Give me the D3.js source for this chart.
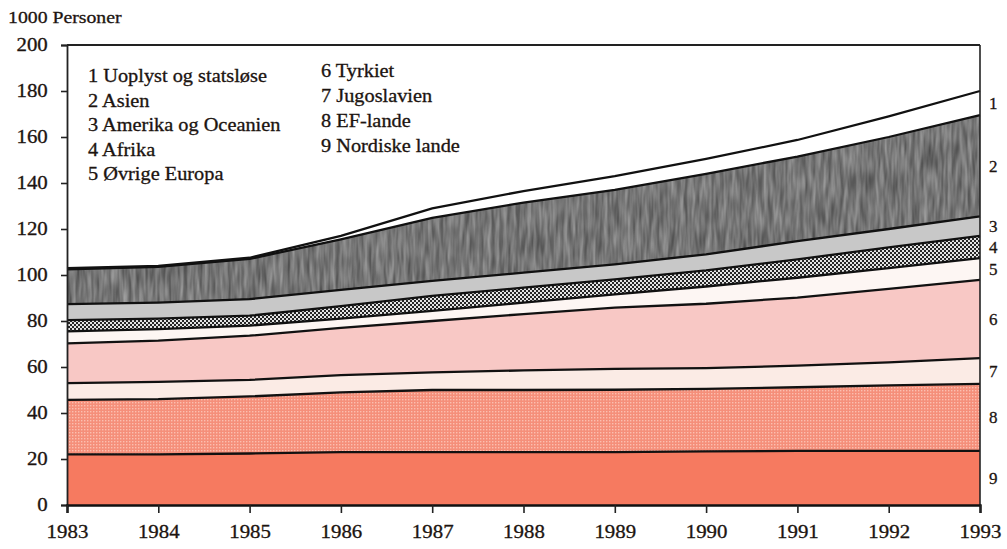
<!DOCTYPE html>
<html>
<head>
<meta charset="utf-8">
<script src="https://cdn.jsdelivr.net/npm/d3@7"></script>
<style>
  body { margin: 0; background: #fff; }
  svg text { font-family: "Liberation Serif", "DejaVu Serif", serif !important; fill: #1c1410; stroke: #1c1410; stroke-width: 0.3px; }
</style>
</head>
<body>
<script>
// years on the x axis
var years = [1983, 1984, 1985, 1986, 1987, 1988, 1989, 1990, 1991, 1992, 1993];

// series, 1000 personer (bottom to top in the stack)
var nordiske   = [22, 22, 22.4, 23, 23, 23, 23, 23.3, 23.5, 23.5, 23.5];
var efLande    = [23.7, 24, 24.8, 26, 27, 27, 27.1, 27.2, 27.7, 28.5, 29.2];
var jugoslav   = [7.3, 7.5, 7.2, 7.5, 7.7, 8.5, 9.1, 9, 9.4, 10, 11.2];
var tyrkiet    = [17.3, 18, 19.2, 20.5, 22.3, 24.5, 26.6, 28, 29.6, 32, 34];
var ovrEuropa  = [5.2, 5, 4.4, 4, 4.4, 5, 5.8, 7.5, 8.6, 9, 9.4];
var afrika     = [4.9, 4.5, 4.3, 5.5, 6.5, 6.5, 6.5, 7, 8, 9, 9.7];
var amerika    = [6.9, 7, 7.2, 7, 6.5, 6.5, 6.5, 7, 7.9, 8, 8.5];
var asien      = [15.2, 15.5, 17.5, 22, 27.4, 30.5, 32.4, 35, 36.8, 40, 44];
var uoplyst    = [0.5, 0.5, 0.5, 1.5, 4.2, 5, 6, 6.5, 7.2, 9, 10.5];

var legendCol1 = ["1 Uoplyst og statsløse", "2 Asien", "3 Amerika og Oceanien", "4 Afrika", "5 Øvrige Europa"];
var legendCol2 = ["6 Tyrkiet", "7 Jugoslavien", "8 EF-lande", "9 Nordiske lande"];
var yTicks = [0, 20, 40, 60, 80, 100, 120, 140, 160, 180, 200];

var keys = ["n9", "n8", "n7", "n6", "n5", "n4", "n3", "n2", "n1"];
var seriesData = [nordiske, efLande, jugoslav, tyrkiet, ovrEuropa, afrika, amerika, asien, uoplyst];
var bandNo = ["9", "8", "7", "6", "5", "4", "3", "2", "1"];
var fills = ["#f67a60", "url(#dotsEF)", "#fbebe5", "#f8c8c5", "#fdf6f3", "url(#check)", "#c8c8c8", "#7a7a7a", "#ffffff"];

var table = years.map(function(yr, i) {
    var row = {year: yr};
    keys.forEach(function(k, j) { row[k] = seriesData[j][i]; });
    return row;
});

var W = 1007, H = 549;
var mLeft = 67, mRight = 980, mTop = 45, mBottom = 505;
var stretch = "scale(1.13,1)";  // the scanned type is a bit wide

var x = d3.scaleLinear().domain([1983, 1993]).range([mLeft, mRight]);
var y = d3.scaleLinear().domain([0, 200]).range([mBottom, mTop]);

var svg = d3.select("body").append("svg")
    .attr("width", W)
    .attr("height", H);

// patterns and texture
var defs = svg.append("defs");

var pEF = defs.append("pattern").attr("id", "dotsEF")
    .attr("patternUnits", "userSpaceOnUse").attr("width", 3).attr("height", 3);
pEF.append("rect").attr("width", 3).attr("height", 3).attr("fill", "#f58f7a");
pEF.append("rect").attr("x", 0).attr("y", 0).attr("width", 1.4).attr("height", 1.4).attr("fill", "#fbbfb0");

var pCh = defs.append("pattern").attr("id", "check")
    .attr("patternUnits", "userSpaceOnUse").attr("width", 4).attr("height", 4);
pCh.append("rect").attr("width", 4).attr("height", 4).attr("fill", "#262626");
pCh.append("rect").attr("x", 0).attr("y", 0).attr("width", 2).attr("height", 2).attr("fill", "#e4e4e4");
pCh.append("rect").attr("x", 2).attr("y", 2).attr("width", 2).attr("height", 2).attr("fill", "#e4e4e4");

var grain = defs.append("filter").attr("id", "grain")
    .attr("x", 0).attr("y", 0).attr("width", "100%").attr("height", "100%")
    .attr("color-interpolation-filters", "sRGB");
grain.append("feTurbulence").attr("type", "fractalNoise")
    .attr("baseFrequency", "0.25 0.035").attr("numOctaves", 2).attr("seed", 4).attr("result", "n");
grain.append("feColorMatrix").attr("in", "n").attr("type", "matrix")
    .attr("values", "0.42 0 0 0 0.25  0.42 0 0 0 0.25  0.42 0 0 0 0.25  0 0 0 0 1").attr("result", "g");
grain.append("feComposite").attr("in", "g").attr("in2", "SourceGraphic").attr("operator", "in");

var stack = d3.stack().keys(keys);
var layers = stack(table);

var area = d3.area()
    .x(function(d) { return x(d.data.year); })
    .y0(function(d) { return y(d[0]); })
    .y1(function(d) { return y(d[1]); });

svg.selectAll(".band")
    .data(layers)
  .enter().append("path")
    .attr("class", "band")
    .attr("d", area)
    .attr("fill", function(d, i) { return fills[i]; })
    .attr("filter", function(d, i) { return keys[i] === "n2" ? "url(#grain)" : null; });

// boundary lines
var line = d3.line()
    .x(function(d) { return x(d.data.year); })
    .y(function(d) { return y(d[1]); });

svg.selectAll(".edge")
    .data(layers)
  .enter().append("path")
    .attr("class", "edge")
    .attr("d", line)
    .attr("fill", "none")
    .attr("stroke", "#111")
    .attr("stroke-width", 2.3);

// frame top and right
svg.append("line").attr("x1", mLeft).attr("x2", mRight).attr("y1", mTop).attr("y2", mTop)
    .attr("stroke", "#222").attr("stroke-width", 1.8);
svg.append("line").attr("x1", mRight).attr("x2", mRight).attr("y1", mTop).attr("y2", mBottom)
    .attr("stroke", "#222").attr("stroke-width", 1.6);

// y axis
var yAxis = d3.axisLeft(y).tickValues(yTicks).tickSize(6).tickPadding(11);
var gy = svg.append("g")
    .attr("transform", "translate(" + mLeft + ",0)")
    .call(yAxis);
gy.select(".domain").attr("stroke", "#222").attr("stroke-width", 1.8);
gy.selectAll(".tick line").attr("stroke", "#222").attr("stroke-width", 1.6);
gy.selectAll(".tick text").style("font-size", "18.5px").attr("transform", stretch);

// x axis
var xAxis = d3.axisBottom(x).tickValues(years).tickFormat(d3.format("d")).tickSize(8).tickPadding(12);
var gx = svg.append("g")
    .attr("transform", "translate(0," + mBottom + ")")
    .call(xAxis);
gx.select(".domain").attr("stroke", "#111").attr("stroke-width", 2.4);
gx.selectAll(".tick line").attr("stroke", "#222").attr("stroke-width", 1.6);
gx.selectAll(".tick text").style("font-size", "18.5px").attr("transform", stretch);

// unit label
svg.append("text").attr("transform", "translate(8,23) " + stretch)
    .style("font-size", "17.5px").text("1000 Personer");

// legend
svg.selectAll(".leg1")
    .data(legendCol1)
  .enter().append("text")
    .attr("transform", function(d, i) { return "translate(88," + (82 + i * 24.6) + ") " + stretch; })
    .style("font-size", "18px")
    .text(function(d) { return d; });

svg.selectAll(".leg2")
    .data(legendCol2)
  .enter().append("text")
    .attr("transform", function(d, i) { return "translate(321," + (77 + i * 25) + ") " + stretch; })
    .style("font-size", "18px")
    .text(function(d) { return d; });

// band numbers on the right, at the middle of each band in 1993
var last = years.length - 1;
svg.selectAll(".num")
    .data(layers)
  .enter().append("text")
    .attr("x", 989)
    .attr("y", function(d) { return y((d[last][0] + d[last][1]) / 2) + 6; })
    .style("font-size", "17px")
    .text(function(d, i) { return bandNo[i]; });
</script>
</body>
</html>
